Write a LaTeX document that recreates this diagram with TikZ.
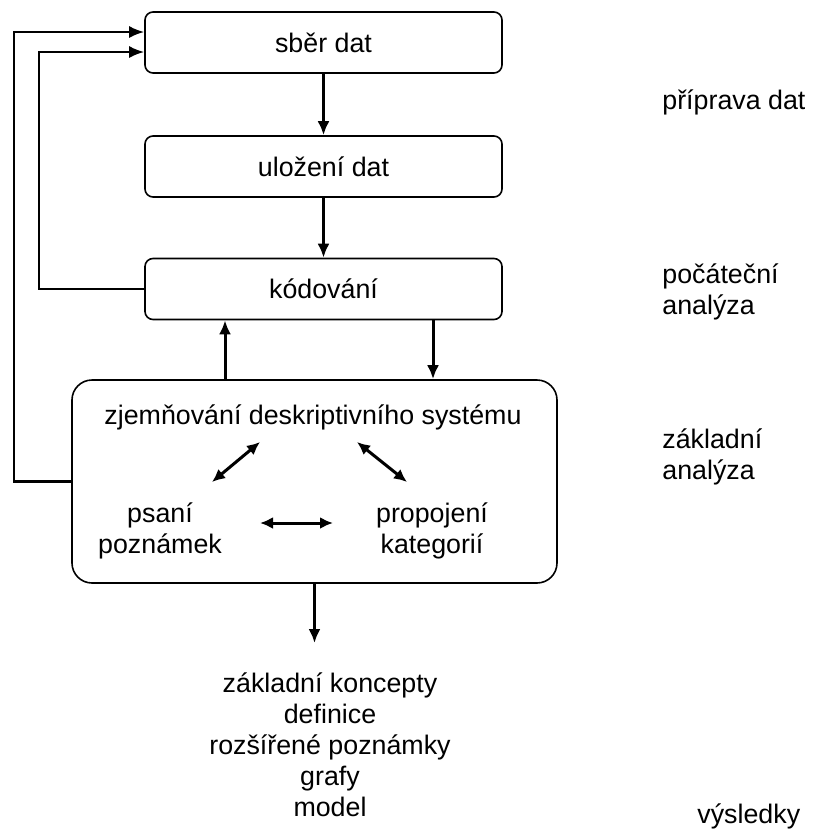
\documentclass[tikz,border=0pt]{standalone}
\usepackage{fontspec}
\setmainfont{Liberation Sans}
\usetikzlibrary{arrows.meta}

\begin{document}
\begin{tikzpicture}[x=0.5pt,y=-0.5pt]

\tikzset{stage/.style = {shape=rectangle,draw,rounded corners=4pt,line width=0.8pt,
  minimum width=178.5pt,minimum height=30.5pt}}
\tikzset{txt/.style = {font=\fontsize{13.4}{15.5}\selectfont,align=center,inner sep=0pt}}
\tikzset{side/.style = {txt,align=left,anchor=west}}
\tikzset{arc/.style = {->,>={Latex[length=7pt,width=6pt]},line width=1.5pt}}
\tikzset{dbl/.style = {<->,>={Latex[length=6.5pt,width=6pt]},line width=1.5pt}}
\tikzset{back/.style = {->,>={Latex[length=7.5pt,width=6pt]},line width=1.1pt}}

\useasboundingbox (0,0) rectangle (819,832);

% boxes
\node[stage,txt] (sber) at (323.5,42.5) {sběr dat};
\node[stage,txt] (ulozeni) at (323.5,166.5) {uložení dat};
\node[stage,txt] (kodovani) at (323.5,289) {kódování};
\node[stage,rounded corners=10pt,minimum width=242.5pt,minimum height=101.5pt] (zaklad) at (314.5,481.5) {};

% inside the big box
\node[txt] (zjem) at (313,417) {zjemňování deskriptivního systému};
\node[txt] (psani) at (160,531) {psaní\\poznámek};
\node[txt] (propoj) at (432,531) {propojení\\kategorií};

% results
\node[txt,anchor=north] (vysl) at (330,672) {základní koncepty\\definice\\rozšířené poznámky\\grafy\\model};

% labels
\node[side] (l1) at (662,102) {příprava dat};
\node[side] (l2) at (662,292) {počáteční\\analýza};
\node[side] (l3) at (662,457) {základní\\analýza};
\node[side] (l4) at (697,816) {výsledky};

% arcs
\draw[arc] (sber) to (ulozeni);
\draw[arc] (ulozeni) to (kodovani);
\draw[arc] (zaklad.north -| 225,0) to (kodovani.south -| 225,0);
\draw[arc] (kodovani.south -| 433,0) to (zaklad.north -| 433,0);
\draw[arc,shorten >=14.5pt] (zaklad.south) to (zaklad.south |- vysl.north);

% edges
\draw[dbl] ([shift={(52,-49)}]psani.center) to ([shift={(-53,25)}]zjem.center);
\draw[dbl] ([shift={(44,25)}]zjem.center) to ([shift={(-25,-49)}]propoj.center);
\draw[dbl] ([shift={(100,-8)}]psani.center) to ([shift={(-99,-8)}]propoj.center);

% feedback
\draw[back] (zaklad.west) -- ++(-57,0) |- ([yshift=5.25pt]sber.west);
\draw[back] (kodovani.west) -- ++(-105,0) |- ([yshift=-4.75pt]sber.west);

\end{tikzpicture}
\end{document}
